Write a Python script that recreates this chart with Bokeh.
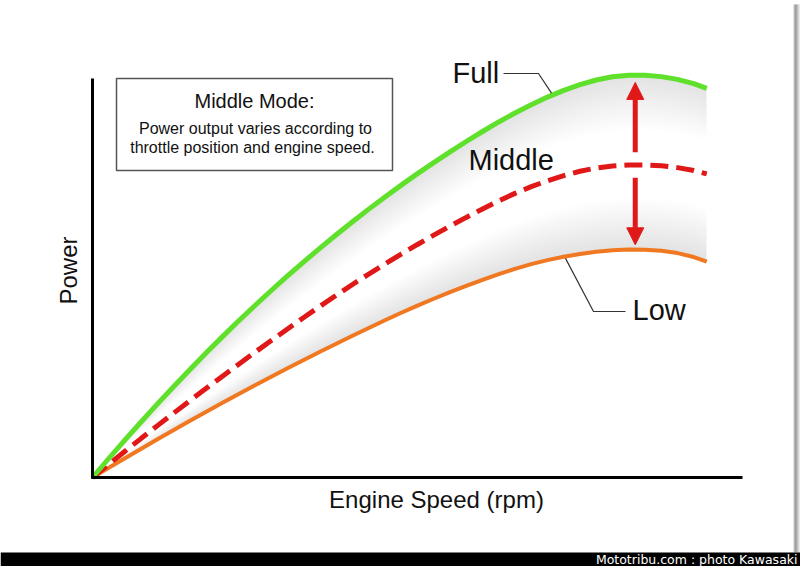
import numpy as np
from bokeh.plotting import figure
from bokeh.models import Range1d, Arrow, NormalHead
from bokeh.core.properties import value
from bokeh.embed import file_html
from bokeh.resources import INLINE

# ---------------- data ----------------
engine_speed = [0, 2.5, 5, 7.5, 10, 12.5, 15, 17.5, 20, 22.5, 25, 27.5, 30, 32.5, 35, 37.5,
                40, 42.5, 45, 47.5, 50, 52.5, 55, 57.5, 60, 62.5, 65, 67.5, 70, 72.5, 75,
                77.5, 80, 82.5, 85, 87.5, 90, 92.5, 94.5]
power_full = [0, 4.75, 9.39, 13.94, 18.4, 22.75, 27.01, 31.17, 35.22, 39.17, 43.01, 46.75,
              50.39, 53.92, 57.36, 60.7, 63.94, 67.09, 70.14, 73.09, 75.96, 78.73, 81.41, 84.0,
              86.5, 88.89, 91.12, 93.2, 95.1, 96.78, 98.2, 99.37, 100.18, 100.57, 100.56,
              100.22, 99.53, 98.48, 97.3]
power_middle = [0, 3.31, 6.57, 9.79, 12.97, 16.11, 19.22, 22.29, 25.33, 28.33, 31.3, 34.24,
                37.14, 40.0, 42.82, 45.57, 48.25, 50.86, 53.4, 55.86, 58.26, 60.59, 62.84,
                65.02, 67.14, 69.16, 71.03, 72.71, 74.19, 75.47, 76.56, 77.39, 77.89, 78.11,
                78.13, 77.93, 77.47, 76.74, 75.92]
power_low = [0, 2.43, 4.83, 7.2, 9.56, 11.88, 14.18, 16.44, 18.68, 20.88, 23.05, 25.19, 27.3,
             29.38, 31.42, 33.44, 35.43, 37.38, 39.31, 41.18, 42.97, 44.69, 46.34, 47.92,
             49.42, 50.84, 52.16, 53.33, 54.34, 55.2, 55.89, 56.43, 56.79, 56.98, 56.96,
             56.69, 56.1, 55.11, 53.94]
curve_names = ["Full", "Middle", "Low"]
x_label = "Engine Speed (rpm)"
y_label = "Power"
box_title = "Middle Mode:"
box_lines = ["Power output varies according to", "throttle position and engine speed."]
credit = "Mototribu.com : photo Kawasaki"
arrow_at_speed = 83.5

# ---------------- layout helpers (pixel -> data) ----------------
OX, OY, SX, SY = 92.0, 477.0, 6.5, 4.0
def X(px):
    return (px - OX) / SX
def Y(py):
    return (OY - py) / SY
def YB(py, fs):
    # baseline position, compensating the renderer's baseline offset
    return Y(py - 0.36 * fs)

W, H = 800, 566
FONT = "Liberation Sans"
GREEN, RED, ORANGE = "#5fe02a", "#e01818", "#f07820"

p = figure(width=W, height=H, output_backend="svg", toolbar_location=None,
           x_range=Range1d(X(0), X(W)), y_range=Range1d(Y(H), Y(0)),
           min_border=0, min_border_left=0, min_border_right=0,
           min_border_top=0, min_border_bottom=0)
p.axis.visible = False
p.grid.visible = False
p.outline_line_color = None
p.background_fill_color = "white"
p.border_fill_color = "white"

xs = np.array(engine_speed, dtype=float)
full = np.array(power_full)
mid = np.array(power_middle)
low = np.array(power_low)

# soft grey shading near the outer curves, fading toward the middle curve
N = 14
for i in range(N):
    t = (i + 1) / N
    p.varea(x=xs, y1=full, y2=full + (mid - full) * 0.6 * t, fill_color="#9a9a9a",
            fill_alpha=0.025)
    p.varea(x=xs, y1=low, y2=low + (mid - low) * 0.6 * t, fill_color="#9a9a9a",
            fill_alpha=0.025)

# curves
p.line(xs, low, line_color=ORANGE, line_width=4, line_join="round")
p.line(xs, mid, line_color=RED, line_width=5, line_dash="18 8")
p.line(xs, full, line_color=GREEN, line_width=5, line_join="round")

# axes
p.segment(x0=[X(92), X(91)], y0=[Y(478), Y(477)], x1=[X(92), X(742)], y1=[Y(78), Y(477)],
          line_color="black", line_width=3)

# double arrow (split by the middle curve)
m_at = float(np.interp(arrow_at_speed, xs, mid))
f_at = float(np.interp(arrow_at_speed, xs, full))
l_at = float(np.interp(arrow_at_speed, xs, low))
for y0, y1 in [(m_at + 3.2, f_at - 1.8), (m_at - 3.2, l_at + 1.2)]:
    p.add_layout(Arrow(end=NormalHead(size=17, fill_color=RED, line_color=RED, line_width=1),
                       x_start=arrow_at_speed, y_start=y0, x_end=arrow_at_speed, y_end=y1,
                       line_color=RED, line_width=5))

# leader lines for the labels
fx = X(551)
fy = float(np.interp(fx, xs, full)) + 0.6
p.line([X(503), X(538), fx], [Y(73), Y(73), fy], line_color="#333333", line_width=1.2)
lx = X(565)
ly = float(np.interp(lx, xs, low)) - 0.5
p.line([lx, X(593), X(625)], [ly, Y(311), Y(311)], line_color="#333333", line_width=1.2)

# curve labels
p.text(x=[X(452), X(468), X(632)], y=[YB(83, 29), YB(170, 29), YB(320, 29)],
       text=curve_names, text_font=value(FONT), text_font_size="29px", text_color="#111111",
       text_align="left", text_baseline="alphabetic")

# info box
p.quad(left=X(116), right=X(392), top=Y(78), bottom=Y(170), fill_color="white",
       line_color="#555555", line_width=1.5)
p.text(x=[X(254)], y=[YB(108, 20)], text=[box_title], text_font=value(FONT),
       text_font_size="20px", text_color="#111111", text_align="center",
       text_baseline="alphabetic")
p.text(x=[X(255), X(252)], y=[YB(134, 16), YB(153, 16)], text=box_lines,
       text_font=value(FONT), text_font_size="16px", text_color="#111111",
       text_align="center", text_baseline="alphabetic")

# axis labels
p.text(x=[X(436)], y=[YB(508, 24)], text=[x_label], text_font=value(FONT),
       text_font_size="24px", text_color="#111111", text_align="center",
       text_baseline="alphabetic")
p.text(x=[X(77 - 0.36 * 24)], y=[Y(270)], text=[y_label], text_font=value(FONT),
       text_font_size="24px", text_color="#111111", text_align="center",
       text_baseline="alphabetic", angle=np.pi / 2)

# right shadow edge
shade = ["#c8c8c8", "#8a8a8a", "#7c7c7c", "#959595", "#b4b4b4", "#d2d2d2", "#ececec"]
p.quad(left=[X(793 + i) for i in range(7)], right=[X(794 + i) for i in range(7)],
       top=[Y(4)] * 7, bottom=[Y(552)] * 7, fill_color=shade, line_color=None)

# bottom credit bar
p.quad(left=[X(0)], right=[X(800)], top=[Y(552)], bottom=[Y(566)], fill_color="black",
       line_color=None)
p.text(x=[X(797)], y=[YB(563, 12.5)], text=[credit], text_font=value("DejaVu Sans"),
       text_font_size="12.5px", text_color="white", text_align="right",
       text_baseline="alphabetic")

open("out.html", "w").write(file_html(p, INLINE))
